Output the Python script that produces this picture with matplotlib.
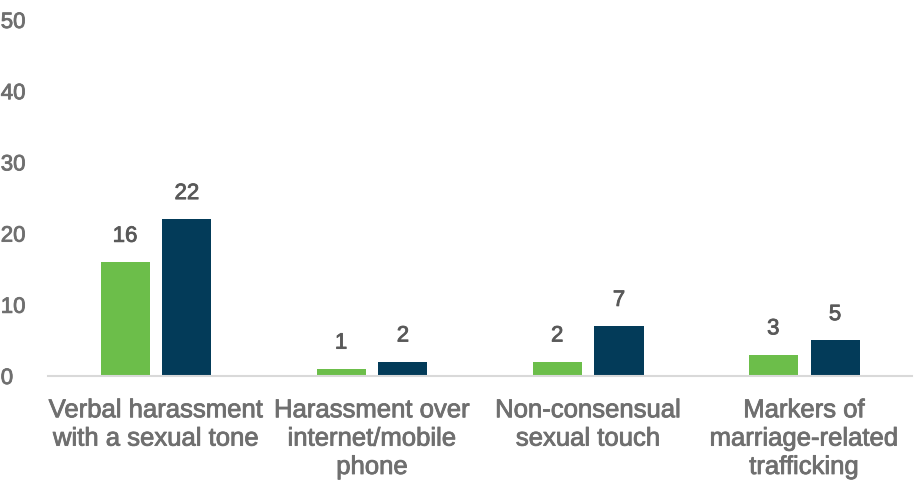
import numpy as np
import matplotlib.pyplot as plt
import matplotlib.patheffects as pe

categories = ['Verbal harassment\nwith a sexual tone', 'Harassment over\ninternet/mobile\nphone',
              'Non-consensual\nsexual touch', 'Markers of\nmarriage-related\ntrafficking']
series_a = [16, 1, 2, 3]
series_b = [22, 2, 7, 5]

green = '#6CBE4A'
navy = '#033B59'
grey = '#6F6F6F'

plt.rcParams['font.family'] = ['Liberation Sans', 'DejaVu Sans']

fig = plt.figure(figsize=(9.14, 4.84), dpi=100)
ax = fig.add_axes([0.0525, 0.2231, 0.9455, 0.7356])

x = np.arange(len(categories))
w = 0.227
off = 0.143
b1 = ax.bar(x - off, series_a, w, color=green)
b2 = ax.bar(x + off, series_b, w, color=navy)

# slightly heavier text, closer to the original font
thick = lambda c: [pe.withStroke(linewidth=0.6, foreground=c)]

for bars, vals in [(b1, series_a), (b2, series_b)]:
    for r, v in zip(bars, vals):
        ax.annotate(str(v), (r.get_x() + r.get_width() / 2, v), xytext=(0, 11),
                    textcoords='offset points', ha='center', va='bottom',
                    fontsize=16, color='#595959', path_effects=thick('#595959'))

ax.set_xlim(-0.5, len(categories) - 0.5)
ax.set_ylim(0, 50)
ax.set_yticks(range(0, 51, 10))
ax.set_xticks(x)
ax.set_xticklabels(categories, fontsize=18.5, color=grey, linespacing=1.23)
ax.tick_params(axis='y', labelsize=16, labelcolor=grey, length=0, pad=34)
ax.tick_params(axis='x', length=0, pad=16)
for s in ['top', 'right', 'left']:
    ax.spines[s].set_visible(False)
ax.spines['bottom'].set_color('#D9D9D9')
ax.spines['bottom'].set_linewidth(1.5)
for t in ax.get_yticklabels():
    t.set_horizontalalignment('left')
    t.set_path_effects(thick(grey))
for t in ax.get_xticklabels():
    t.set_path_effects(thick(grey))

fig.savefig('out.png', dpi=100)
